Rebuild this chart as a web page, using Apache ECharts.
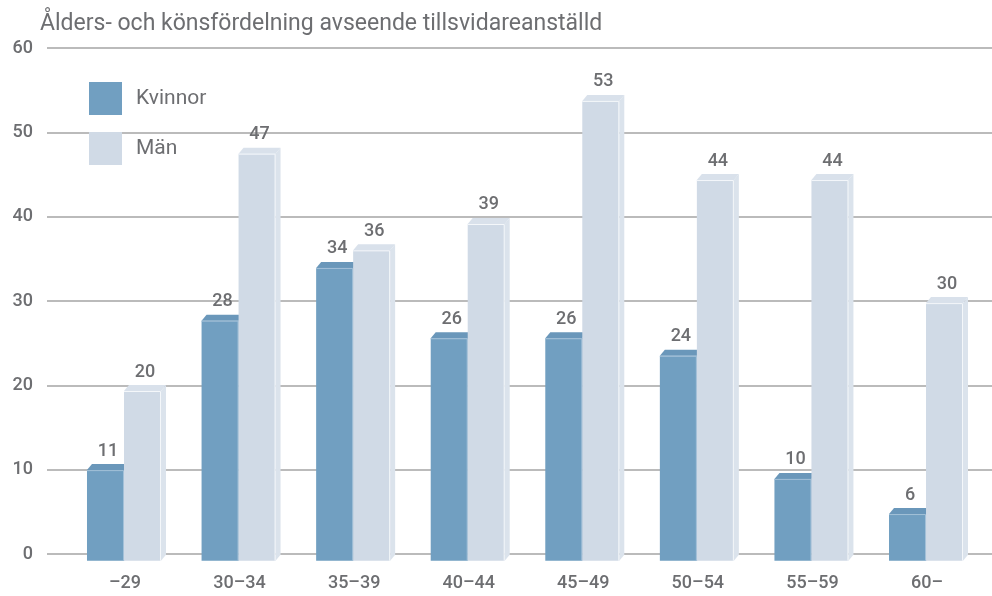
<!DOCTYPE html>
<html>
<head>
<meta charset="utf-8">
<script src="https://cdn.jsdelivr.net/npm/echarts@6/dist/echarts.min.js"></script>
<style>
  html, body { margin: 0; padding: 0; background: #fff; }
  #chart { width: 992px; height: 596px; }
</style>
</head>
<body>
<div id="chart"></div>
<script>
// data
const categories = ['–29', '30–34', '35–39', '40–44', '45–49', '50–54', '55–59', '60–'];
const kvinnor = [11, 28, 34, 26, 26, 24, 10, 6];
const man = [20, 47, 36, 39, 53, 44, 44, 30];
const yTicks = [0, 10, 20, 30, 40, 50, 60];

const textColor = '#6d6e71';
const fontFamily = 'Roboto, sans-serif';

// pseudo 3d bar, front face + top + side
const DX = 5;
const DY = 6;
const BAR_W = 37;

function makeRender(offset, colors) {
  return function (params, api) {
    const idx = api.value(0);
    const val = api.value(1);
    const base = api.coord([idx, 0]);
    const top = api.coord([idx, val]);
    const x0 = base[0] + offset;
    const yBot = base[1] - 6;
    const yTop = top[1];
    const x1 = x0 + BAR_W;
    return {
      type: 'group',
      children: [
        {
          type: 'polygon',
          shape: { points: [[x1, yTop], [x1 + DX, yTop - DY], [x1 + DX, yBot - DY], [x1, yBot]] },
          style: { fill: colors.side }
        },
        {
          type: 'polygon',
          shape: { points: [[x0, yTop], [x0 + DX, yTop - DY], [x1 + DX, yTop - DY], [x1, yTop]] },
          style: { fill: colors.top }
        },
        {
          type: 'rect',
          shape: { x: x0, y: yTop, width: BAR_W, height: yBot - yTop },
          style: { fill: colors.front }
        },
        {
          type: 'polyline',
          shape: { points: [[x0, yTop + 0.5], [x1 - 0.5, yTop + 0.5], [x1 - 0.5, yBot]] },
          style: { stroke: colors.edge, lineWidth: 1, fill: null }
        },
        {
          type: 'text',
          style: {
            text: String(val),
            x: x0 + BAR_W / 2 + DX / 2,
            y: yTop - DY - 4,
            align: 'center',
            verticalAlign: 'bottom',
            fill: textColor,
            font: '500 18px ' + fontFamily
          }
        }
      ]
    };
  };
}

const kvColors = { front: '#719fc1', top: '#6a97ba', side: '#5f8cb0', edge: '#a3c0d8' };
const manColors = { front: '#d0dae6', top: '#d9e1eb', side: '#dbe3ec', edge: '#f4f7fa' };

const chart = echarts.init(document.getElementById('chart'));

chart.setOption({
  animation: false,
  backgroundColor: '#fff',
  title: {
    text: 'Ålders- och könsfördelning avseende tillsvidareanställd',
    left: 35,
    top: 8,
    textStyle: { color: textColor, fontSize: 23, fontWeight: 'normal', fontFamily }
  },
  legend: {
    orient: 'vertical',
    left: 89,
    top: 82,
    itemWidth: 33,
    itemHeight: 33,
    itemGap: 17,
    icon: 'rect',
    padding: 0,
    textStyle: { color: textColor, fontSize: 21, fontWeight: 'normal', fontFamily, padding: [0, 0, 0, 9] },
    data: ['Kvinnor', 'Män']
  },
  grid: [
    { left: 47, right: 0, top: 48, bottom: 42 },
    { left: 67.7, right: 7.7, top: 39.4, bottom: 29.2 }
  ],
  xAxis: [
    { gridIndex: 0, type: 'value', show: false, min: 0, max: 1 },
    {
      gridIndex: 1,
      type: 'category',
      data: categories,
      axisLine: { show: false },
      axisTick: { show: false },
      axisLabel: { color: textColor, fontSize: 18, fontWeight: 500, fontFamily, margin: 8 }
    }
  ],
  yAxis: [
    {
      gridIndex: 0,
      type: 'value',
      min: yTicks[0],
      max: yTicks[yTicks.length - 1],
      interval: 10,
      axisLine: { show: false },
      axisTick: { show: false },
      axisLabel: { color: textColor, fontSize: 18, fontWeight: 500, fontFamily, margin: 14 },
      splitLine: { lineStyle: { color: '#a4a4a4', width: 1.5 } }
    },
    { gridIndex: 1, type: 'value', min: 0, max: 60, show: false }
  ],
  series: [
    {
      name: 'Kvinnor',
      type: 'custom',
      xAxisIndex: 1,
      yAxisIndex: 1,
      itemStyle: { color: kvColors.front },
      renderItem: makeRender(-38, kvColors),
      data: kvinnor.map((v, i) => [i, v])
    },
    {
      name: 'Män',
      type: 'custom',
      xAxisIndex: 1,
      yAxisIndex: 1,
      itemStyle: { color: manColors.front },
      renderItem: makeRender(-1, manColors),
      data: man.map((v, i) => [i, v])
    }
  ]
});
</script>
</body>
</html>
